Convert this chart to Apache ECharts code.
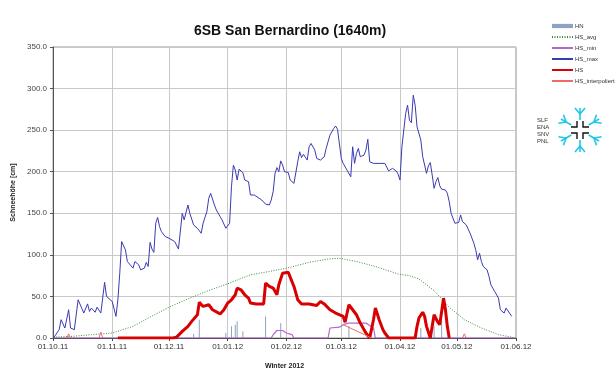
<!DOCTYPE html>
<html>
<head>
<meta charset="utf-8">
<script src="https://cdn.jsdelivr.net/npm/echarts@6/dist/echarts.min.js"></script>
<style>
  html, body { margin: 0; padding: 0; background: #fff; }
  #chart { width: 616px; height: 376px; }
</style>
</head>
<body>
<div id="chart"></div>
<script>
// values are [day since 01.10.2011, cm]
const hsMax = [[0,0],[3,10],[4,22],[6,12],[8,34],[9,12],[11,10],[13,46],[14,48],[16,30],[18,41],[19,32],[20,36],[22,31],[23,37],[25,30],[26,29],[27,67],[28,50],[29,48],[31,44],[32,46],[33,26],[34,46],[35,78],[36,116],[37,117],[38,106],[39,92],[40,90],[42,84],[43,92],[44,94],[45,88],[46,82],[47,81],[48,84],[49,91],[50,86],[51,115],[52,107],[53,103],[54,138],[55,145],[56,134],[57,128],[59,122],[61,120],[64,116],[66,107],[68,150],[69,142],[71,160],[72,150],[74,136],[76,132],[77,134],[78,126],[79,138],[81,152],[82,168],[83,174],[85,160],[86,154],[88,146],[89,142],[91,132],[92,130],[93,138],[94,182],[95,208],[96,202],[97,190],[98,203],[100,199],[101,190],[103,188],[104,172],[106,172],[108,169],[110,166],[112,161],[114,160],[115,166],[116,176],[117,198],[118,205],[119,200],[120,213],[121,208],[122,200],[124,199],[125,190],[127,186],[128,184],[129,212],[130,224],[131,217],[132,221],[134,214],[135,230],[136,234],[138,226],[139,216],[141,214],[143,218],[144,228],[145,236],[146,244],[148,252],[149,255],[150,251],[152,216],[153,210],[155,202],[157,194],[158,230],[159,210],[160,222],[161,228],[162,218],[164,220],[165,226],[166,239],[167,212],[169,210],[172,210],[175,210],[177,201],[178,199],[179,204],[181,201],[182,197],[183,190],[184,230],[186,270],[187,280],[188,262],[189,259],[190,292],[191,280],[192,254],[194,238],[195,218],[196,208],[197,198],[198,207],[199,211],[200,196],[201,180],[202,188],[203,193],[204,183],[205,179],[207,178],[208,174],[209,164],[210,150],[212,138],[214,139],[215,148],[216,140],[218,136],[220,126],[222,114],[223,106],[224,94],[225,102],[226,92],[227,86],[229,82],[230,74],[231,64],[233,56],[235,48],[236,34],[238,30],[239,36],[240,34],[242,26]];

const hsAvg = [[0,1],[10,2],[20,4],[31,6],[42,14],[50,24],[61,37],[72,48],[83,58],[93,66],[104,76],[114,80],[125,85],[135,91],[145,95],[151,96],[160,92],[170,86],[182,77],[188,75],[193,71],[201,57],[209,37],[217,22],[226,12],[235,4],[242,1],[244,0]];

const hsMin = [[0,0],[115,0],[116,4],[118,9],[121,9],[123,6],[126,4],[127,0],[145,0],[146,12],[151,13],[153,16],[156,18],[165,18],[169,12],[170,0],[244,0]];

const hs = [[34,0],[63,0],[65,1],[68,8],[69,6],[71,14],[73,20],[74,22],[76,28],[77,43],[79,38],[82,40],[84,34],[88,29],[90,34],[92,42],[94,46],[96,52],[97,60],[99,58],[101,52],[103,48],[104,42],[107,41],[111,41],[112,66],[114,62],[116,60],[118,52],[119,64],[121,78],[124,79],[125,78],[127,62],[129,46],[131,41],[135,41],[139,39],[141,44],[143,41],[146,34],[149,30],[153,26],[154,19],[156,40],[158,34],[160,28],[162,18],[165,6],[167,0],[169,22],[170,36],[172,22],[174,10],[175,6],[177,0],[191,0],[192,14],[193,24],[195,31],[196,26],[197,14],[199,0],[200,14],[201,28],[202,26],[203,19],[204,16],[206,48],[207,34],[208,14],[209,0]];

const hsInterp = [[7,0],[8,5],[9,0],null,[24,0],[25,7],[26,0],null,[153,16],[168,0],null,[216,0],[217,5],[218,0]];

const hn = [[74,5],[77,22],[91,6],[94,14],[96,16],[97,20],[100,8],[112,26],[120,18],[156,14],[194,12],[201,14],[205,20]];

const startDay = Date.UTC(2011, 9, 1);
const endDay = Date.UTC(2012, 5, 1);
const DAY = 86400000;

function toTime(arr) {
    return arr.map(p => p === null ? '-' : [startDay + p[0] * DAY, p[1]]);
}

function pad(n) { return n < 10 ? '0' + n : '' + n; }

const font = 'Liberation Sans, Arial, sans-serif';

// SLF logo (snowflake + cross)
const cx = 580, cy = 130;
let logo = [];
[90, 30, 150, 210, 270, 330].forEach(a => {
    let r = a * Math.PI / 180;
    let ux = Math.cos(r), uy = -Math.sin(r);
    let vx = -uy, vy = ux;
    logo.push({type: 'line', shape: {x1: cx + 10 * ux, y1: cy + 10 * uy, x2: cx + 22 * ux, y2: cy + 22 * uy},
        style: {stroke: '#1ec8e6', lineWidth: 1.6}});
    logo.push({type: 'polyline', shape: {points: [
        [cx + 22 * ux + 5 * vx, cy + 22 * uy + 5 * vy],
        [cx + 16 * ux, cy + 16 * uy],
        [cx + 22 * ux - 5 * vx, cy + 22 * uy - 5 * vy]]},
        style: {stroke: '#1ec8e6', lineWidth: 1.6, fill: null}});
});
// stepped black cross pieces
[[1, 1], [1, -1], [-1, 1], [-1, -1]].forEach(s => {
    logo.push({type: 'polyline', shape: {points: [
        [cx + s[0] * 9, cy + s[1] * 3],
        [cx + s[0] * 3, cy + s[1] * 3],
        [cx + s[0] * 3, cy + s[1] * 9]]},
        style: {stroke: '#111', lineWidth: 1.4, fill: null}});
});
['SLF', 'ENA', 'SNV', 'PNL'].forEach((t, i) => {
    logo.push({type: 'text', x: 537, y: 117 + i * 7,
        style: {text: t, fill: '#333', font: '6px ' + font}});
});

const chart = echarts.init(document.getElementById('chart'));
const option = {
    animation: false,
    useUTC: true,
    backgroundColor: '#fff',
    textStyle: {fontFamily: font},
    title: {
        text: '6SB San Bernardino (1640m)',
        left: 285, top: 19, textAlign: 'center',
        textStyle: {fontSize: 14, fontWeight: 'bold', color: '#111', fontFamily: font}
    },
    legend: {
        orient: 'vertical', left: 546, top: 18,
        itemWidth: 21, itemHeight: 6, itemGap: 5,
        itemStyle: {opacity: 0},
        textStyle: {fontSize: 6, color: '#333', padding: [0, 0, 0, -3]},
        data: [
            {name: 'HN', icon: 'path://M0,0H20V4H0Z', itemStyle: {color: '#8ea2c4', opacity: 1}},
            'HS_avg', 'HS_min', 'HS_max', 'HS', 'HS_interpoliert'
        ]
    },
    grid: {left: 53, right: 100, top: 47, bottom: 38, show: true, borderColor: '#999', borderWidth: 1},
    xAxis: {
        type: 'time',
        min: startDay, max: endDay,
        splitNumber: 8,
        minInterval: 28 * DAY, maxInterval: 31 * DAY,
        name: 'Winter 2012', nameLocation: 'middle', nameGap: 25,
        nameTextStyle: {fontSize: 7, fontWeight: 'bold', color: '#222'},
        axisLine: {lineStyle: {color: '#444'}},
        axisTick: {show: true, length: 3, lineStyle: {color: '#444'}},
        axisLabel: {
            fontSize: 8, color: '#333', margin: 5, showMinLabel: true, showMaxLabel: true,
            formatter: function (v) {
                let d = new Date(Math.round(v / DAY) * DAY);
                return pad(d.getUTCDate()) + '.' + pad(d.getUTCMonth() + 1) + '.' + pad(d.getUTCFullYear() % 100);
            }
        },
        splitLine: {show: true, lineStyle: {color: '#c8c8c8'}}
    },
    yAxis: {
        type: 'value', min: 0, max: 350, interval: 50,
        name: 'Schneehöhe [cm]', nameLocation: 'middle', nameGap: 36,
        nameTextStyle: {fontSize: 7, fontWeight: 'bold', color: '#222'},
        axisLine: {show: true, lineStyle: {color: '#555'}},
        axisTick: {show: true, length: 3, lineStyle: {color: '#555'}},
        axisLabel: {fontSize: 8, color: '#444', margin: 6, formatter: v => v.toFixed(1)},
        splitLine: {lineStyle: {color: '#c8c8c8'}}
    },
    series: [
        {name: 'HN', type: 'bar', barWidth: 1, data: toTime(hn), itemStyle: {color: '#8ea2c4'}},
        {name: 'HS_avg', type: 'line', symbol: 'none', data: toTime(hsAvg),
            itemStyle: {color: '#3d8a3d'}, lineStyle: {color: '#3d8a3d', width: 1, type: [1, 1.5]}},
        {name: 'HS_min', type: 'line', symbol: 'none', data: toTime(hsMin),
            itemStyle: {color: '#b267cc'}, lineStyle: {color: '#b267cc', width: 1.2}},
        {name: 'HS_max', type: 'line', symbol: 'none', data: toTime(hsMax),
            itemStyle: {color: '#3a3ab4'}, lineStyle: {color: '#3a3ab4', width: 1}},
        {name: 'HS', type: 'line', symbol: 'none', data: toTime(hs),
            itemStyle: {color: '#d80000'}, lineStyle: {color: '#d80000', width: 3}},
        {name: 'HS_interpoliert', type: 'line', symbol: 'none', connectNulls: false, data: toTime(hsInterp),
            itemStyle: {color: '#f06a6a'}, lineStyle: {color: '#f06a6a', width: 1}}
    ],
    graphic: logo
};
chart.setOption(option);
</script>
</body>
</html>
